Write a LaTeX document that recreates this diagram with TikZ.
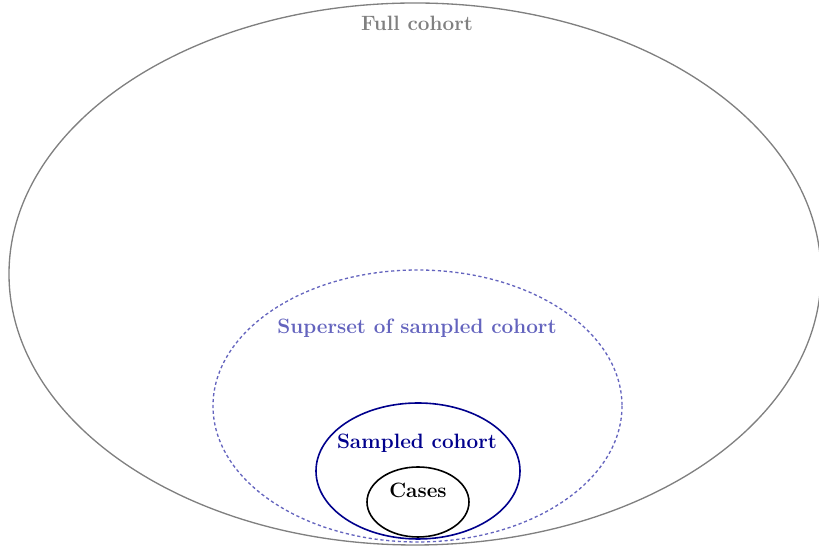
\documentclass[tikz,border=0pt]{standalone}
\begin{document}
\begin{tikzpicture}[x=0.564pt,y=-0.564pt,
  lab/.style={font=\fontsize{11.7}{14}\selectfont\bfseries},
]
\definecolor{supc}{RGB}{100,100,190}
\definecolor{sampc}{RGB}{0,0,140}
\useasboundingbox (0,0) rectangle (819,548);
\draw[gray, line width=0.75pt] (415,274) ellipse [x radius=406, y radius=271];
\coordinate (full) at (415,274);
\draw[supc, line width=0.75pt, dash pattern=on 1.8pt off 1.5pt] (417.5,406) ellipse [x radius=204.5, y radius=136];
\coordinate (sup) at (417.5,406);
\draw[sampc, line width=0.9pt] (418,471) ellipse [x radius=102, y radius=68];
\coordinate (samp) at (418,471);
\draw[black, line width=0.9pt] (418,502) ellipse [x radius=51, y radius=35];
\coordinate (cases) at (418,502);
\node[lab, text=gray] (lfull) at (417,23) {Full cohort};
\node[lab, text=supc] (lsup) at (417,328) {Superset of sampled cohort};
\node[lab, text=sampc] (lsamp) at (417,443) {Sampled cohort};
\node[lab, text=black] (lcases) at (418,490) {Cases};
\end{tikzpicture}
\end{document}
